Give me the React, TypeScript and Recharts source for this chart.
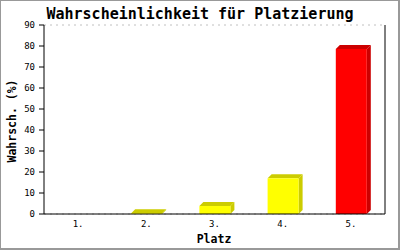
import React from "react";
import { BarChart, Bar, XAxis, YAxis, CartesianGrid, Cell } from "recharts";

const categories = ["1.", "2.", "3.", "4.", "5."];
const values = [0, 0.4, 3.8, 17, 78.6];
const barColors = ["#ffff00", "#ffff00", "#ffff00", "#ffff00", "#ff0000"];
const sideColors = ["#cccc00", "#cccc00", "#cccc00", "#cccc00", "#cc0000"];
const yTicks = [0, 10, 20, 30, 40, 50, 60, 70, 80, 90];

const data = categories.map((c, i) => ({ name: c, value: values[i], idx: i }));

const FONT = "'DejaVu Sans Mono', 'Liberation Mono', monospace";

const Bar3D = (props: any) => {
  const { x, y, width, height, payload } = props;
  const i = payload.idx;
  const d = 4;
  if (payload.value <= 0) return null;
  const front = barColors[i];
  const dark = sideColors[i];
  return (
    <g>
      <polygon
        points={`${x},${y} ${x + d},${y - d} ${x + width + d},${y - d} ${x + width},${y}`}
        fill={dark}
      />
      <polygon
        points={`${x + width},${y} ${x + width + d},${y - d} ${x + width + d},${y + height - d} ${x + width},${y + height}`}
        fill={dark}
      />
      <rect x={x} y={y} width={width} height={height} fill={front} />
    </g>
  );
};

export default function App() {
  return (
    <div
      style={{
        position: "absolute",
        left: 0,
        top: 0,
        width: 400,
        height: 250,
        boxSizing: "border-box",
        border: "1px solid #999999",
        borderRightWidth: 2,
        borderBottomWidth: 2,
        background: "#fff",
      }}
    >
      <div style={{ position: "absolute", left: -1, top: -1 }}>
        <BarChart
          width={400}
          height={250}
          data={data}
          margin={{ top: 25, right: 14, bottom: 0, left: 0 }}
          barCategoryGap={0}
        >
          <text
            x={200}
            y={19}
            textAnchor="middle"
            style={{ fontFamily: FONT, fontWeight: "bold", fontSize: 15, fill: "#000" }}
          >
            Wahrscheinlichkeit für Platzierung
          </text>
          <text
            transform="translate(16,121) rotate(-90)"
            textAnchor="middle"
            style={{ fontFamily: FONT, fontWeight: "bold", fontSize: 11.5, fill: "#000" }}
          >
            Wahrsch. (%)
          </text>
          <text
            x={214}
            y={243}
            textAnchor="middle"
            style={{ fontFamily: FONT, fontWeight: "bold", fontSize: 11.5, fill: "#000" }}
          >
            Platz
          </text>
          <CartesianGrid
            horizontal={true}
            vertical={false}
            stroke="#c0c0c0"
            strokeDasharray="2 4"
          />
          <XAxis
            dataKey="name"
            height={36}
            axisLine={{ stroke: "#000" }}
            tickLine={false}
            tickMargin={1}
            tick={{ fontFamily: FONT, fontSize: 9, fill: "#000" }}
          />
          <YAxis
            yAxisId="l"
            width={44}
            domain={[0, 90]}
            ticks={yTicks}
            interval={0}
            axisLine={{ stroke: "#000" }}
            tickLine={{ stroke: "#000" }}
            tickSize={5}
            tickMargin={4}
            tick={{ fontFamily: FONT, fontSize: 9, fill: "#000" }}
          />
          <YAxis
            yAxisId="r"
            orientation="right"
            width={1}
            domain={[0, 90]}
            tick={false}
            tickLine={false}
            axisLine={{ stroke: "#000" }}
          />
          <Bar
            yAxisId="l"
            dataKey="value"
            barSize={31}
            isAnimationActive={false}
            shape={<Bar3D />}
          >
            {data.map((d, i) => (
              <Cell key={i} fill={barColors[i]} />
            ))}
          </Bar>
        </BarChart>
      </div>
    </div>
  );
}
